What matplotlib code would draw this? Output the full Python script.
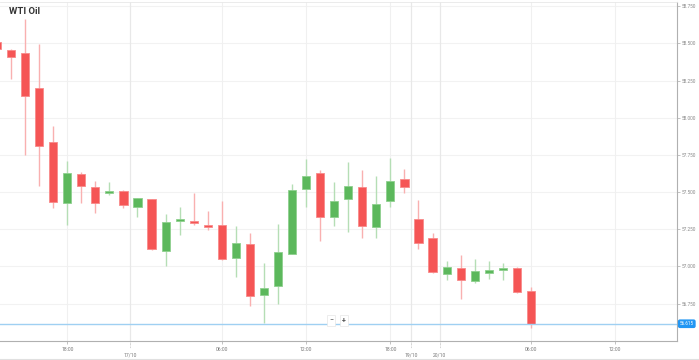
import matplotlib.pyplot as plt
import numpy as np

plt.rcParams['font.family'] = ['Roboto', 'DejaVu Sans']

# hourly candles
opens = [58.509, 58.455, 58.435, 58.200, 57.837, 57.427, 57.622, 57.534, 57.494, 57.508,
         57.400, 57.454, 57.104, 57.306, 57.306, 57.279, 57.279, 57.057, 57.151, 56.808,
         56.869, 57.084, 57.521, 57.629, 57.333, 57.454, 57.534, 57.266, 57.440, 57.588,
         57.319, 57.192, 56.950, 56.990, 56.903, 56.956, 56.976, 56.990, 56.835]
highs = [58.520, 58.462, 58.664, 58.496, 57.945, 57.709, 57.635, 57.575, 57.568, 57.514,
         57.461, 57.454, 57.353, 57.400, 57.494, 57.373, 57.440, 57.272, 57.225, 57.024,
         57.286, 57.555, 57.723, 57.649, 57.568, 57.703, 57.649, 57.608, 57.729, 57.655,
         57.447, 57.225, 57.037, 57.077, 57.050, 57.037, 57.024, 56.997, 56.862]
lows = [58.462, 58.261, 57.750, 57.541, 57.393, 57.279, 57.427, 57.360, 57.481, 57.393,
        57.333, 57.111, 57.003, 57.212, 57.279, 57.245, 57.044, 56.929, 56.734, 56.620,
        56.748, 57.084, 57.400, 57.171, 57.272, 57.232, 57.192, 57.192, 57.400, 57.494,
        57.118, 56.956, 56.909, 56.782, 56.889, 56.916, 56.909, 56.822, 56.587]
closes = [58.462, 58.408, 58.146, 57.810, 57.434, 57.629, 57.541, 57.427, 57.501, 57.413,
          57.461, 57.118, 57.299, 57.319, 57.292, 57.266, 57.050, 57.158, 56.802, 56.855,
          57.097, 57.514, 57.608, 57.333, 57.440, 57.541, 57.272, 57.420, 57.575, 57.534,
          57.158, 56.963, 56.997, 56.909, 56.970, 56.976, 56.990, 56.829, 56.615]

current_price = 56.615

y_ticks = [56.75, 57.0, 57.25, 57.5, 57.75, 58.0, 58.25, 58.5, 58.75]
time_pos = [5, 16, 22, 28, 38, 44]
time_labels = ['18:00', '06:00', '12:00', '18:00', '06:00', '12:00']
day_pos = [9.5, 29.5, 31.5]
day_labels = ['17/10', '19/10', '20/10']

RED = '#f55555'
RED_EDGE = '#f88a8a'
RED_WICK = '#f9b0b0'
GREEN = '#5cb85c'
GREEN_EDGE = '#8fd08f'
GREEN_WICK = '#b5deb5'

fig = plt.figure(figsize=(6.99, 3.6), dpi=100)
ax = fig.add_axes([0, 19 / 360, 677 / 699, 339 / 360])

o = np.array(opens)
h = np.array(highs)
l = np.array(lows)
c = np.array(closes)
x = np.arange(len(o))
up = c >= o

# wicks
ax.vlines(x[up], l[up], h[up], color=GREEN_WICK, lw=1.0, zorder=2)
ax.vlines(x[~up], l[~up], h[~up], color=RED_WICK, lw=1.0, zorder=2)

# bodies
bottoms = np.minimum(o, c)
heights = np.maximum(np.abs(c - o), 0.012)
ax.bar(x[up], heights[up], bottom=bottoms[up], width=0.58, color=GREEN,
       edgecolor=GREEN_EDGE, linewidth=0.6, zorder=3)
ax.bar(x[~up], heights[~up], bottom=bottoms[~up], width=0.58, color=RED,
       edgecolor=RED_EDGE, linewidth=0.6, zorder=3)

# current price line
ax.axhline(current_price, color='#9fd0f2', lw=1.0, zorder=4)
ax.text(1.004, current_price, f'{current_price:.3f}', transform=ax.get_yaxis_transform(),
        ha='left', va='center', fontsize=3.3, color='white', clip_on=False,
        bbox=dict(boxstyle='round,pad=0.25,rounding_size=0.3', fc='#2196f3', ec='#2196f3'))

ax.set_xlim(0.214, 48.4)
ax.set_ylim(56.499, 58.778)

# grid
for v in y_ticks:
    ax.axhline(v, color='#f2f2f2', lw=0.8, zorder=0)
for p in time_pos:
    ax.axvline(p, color='#f0f0f0', lw=0.8, zorder=0)
for p in day_pos:
    ax.axvline(p, color='#e8e8e8', lw=0.9, zorder=0)

ax.yaxis.tick_right()
ax.set_yticks(y_ticks)
ax.set_yticklabels([f'{v:.3f}' for v in y_ticks])
ax.tick_params(axis='y', labelsize=3.4, labelcolor='#888888', length=2, width=0.5,
               color='#aaaaaa', pad=1)

ax.set_xticks(time_pos)
ax.set_xticklabels(time_labels)
ax.set_xticks(day_pos, minor=True)
ax.set_xticklabels(day_labels, minor=True)
ax.tick_params(axis='x', which='major', labelsize=3.6, labelcolor='#777777', length=2,
               width=0.5, color='#aaaaaa', pad=2)
ax.tick_params(axis='x', which='minor', labelsize=3.6, labelcolor='#777777', length=0,
               pad=8)
for p in day_pos:
    ax.plot([p, p], [0, -0.022], transform=ax.get_xaxis_transform(), color='#aaaaaa',
            lw=0.5, ls=(0, (1, 1)), clip_on=False)

ax.spines['left'].set_visible(False)
ax.spines['right'].set_color('#b0b0b0')
ax.spines['bottom'].set_color('#b0b0b0')
ax.spines['top'].set_color('#e8e8e8')
ax.spines['right'].set_linewidth(0.8)
ax.spines['bottom'].set_linewidth(0.8)
ax.spines['top'].set_linewidth(0.6)

# zoom buttons
ax.text(331 / 677, 0.06, '\u2212', transform=ax.transAxes, ha='center', va='center',
        fontsize=5, color='#555555', zorder=6,
        bbox=dict(boxstyle='square,pad=0.25', fc='white', ec='#e6e6e6', lw=0.5))
ax.text(344 / 677, 0.06, '+', transform=ax.transAxes, ha='center', va='center',
        fontsize=5, color='#555555', weight='bold', zorder=6,
        bbox=dict(boxstyle='square,pad=0.25', fc='white', ec='#e6e6e6', lw=0.5))

fig.text(9 / 699, 1 - 12 / 360, 'WTI Oil', ha='left', va='center', fontsize=6.8,
         weight='bold', color='#333333')

fig.add_artist(plt.Line2D([0, 1], [1.5 / 360, 1.5 / 360], color='#e0e0e0', lw=0.8))

fig.savefig('out.png', dpi=100)
